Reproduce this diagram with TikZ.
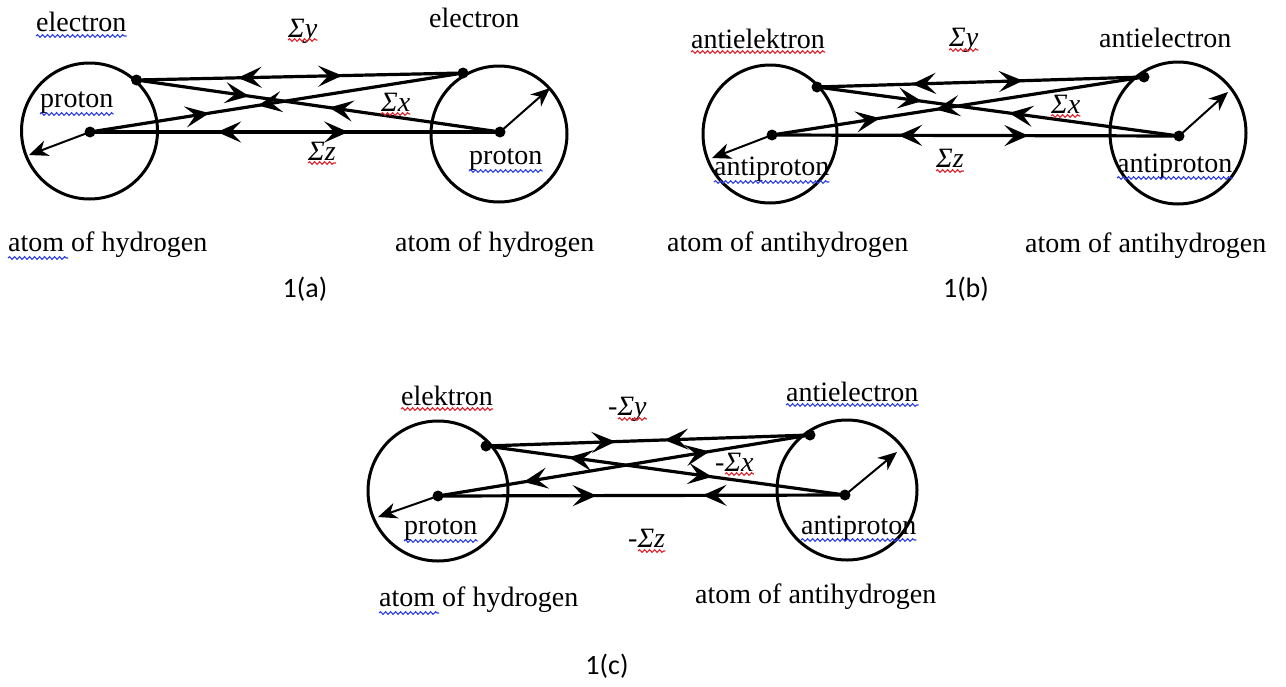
\documentclass[tikz,border=0pt]{standalone}
\usepackage{fontspec}
\setmainfont{Liberation Serif}
\newfontfamily\capfont{Carlito}
\usetikzlibrary{arrows.meta,decorations.markings,decorations.pathmorphing,shapes.geometric}
\definecolor{sqblue}{RGB}{40,60,235}
\definecolor{sqred}{RGB}{225,30,40}
\tikzset{
  /pgf/decoration/fw/.style={mark=at position #1 with {\arrow{Stealth[length=24pt,width=21pt,inset=10pt]}}},
  /pgf/decoration/bw/.style={mark=at position #1 with {\arrowreversed{Stealth[length=24pt,width=21pt,inset=10pt]}}},
  force/.style={line width=3.2pt, postaction={decorate}, decoration={markings,#1}},
  atomc/.style={draw, circle, line width=3pt, inner sep=0pt, minimum size=#1},
  atome/.style={draw, ellipse, line width=3pt, inner sep=0pt},
  dot/.style={circle, fill, inner sep=0pt, minimum size=11pt},
  outarr/.style={line width=2pt, -{Stealth[length=19pt,width=16pt,inset=6pt]}},
  lbl/.style={font=\fontsize{28pt}{32pt}\selectfont, inner sep=0pt, anchor=base west},
  caplbl/.style={font=\capfont\fontsize{28pt}{32pt}\selectfont, inner sep=0pt, anchor=base},
  sq/.style={decorate, decoration={snake, segment length=5pt, amplitude=1.3pt}, line width=1.1pt},
}
\begin{document}
\begin{tikzpicture}[x=1pt,y=-1pt]
\useasboundingbox (0,0) rectangle (1286,686);
% ---------------- 1(a)
\node[atomc=136] (a-L) at (89.5,131) {};
\node[atomc=136] (a-R) at (499,134) {};
\node[dot] (a-e1) at (136.5,80) {};
\node[dot] (a-p1) at (90,132) {};
\node[dot] (a-e2) at (463,73) {};
\node[dot] (a-p2) at (500,132) {};
\coordinate (a-o1) at (29,155);
\coordinate (a-o2) at (550,88);
\draw[force={bw=0.31,fw=0.63}] (a-e1.center) -- (a-e2.center);
\draw[force={bw=0.31,fw=0.63}] (a-p1.center) -- (a-p2.center);
\draw[force={fw=0.31,bw=0.53}] (a-e1.center) -- (a-p2.center);
\draw[force={fw=0.32,bw=0.45}] (a-p1.center) -- (a-e2.center);
\draw[outarr] (a-p1.center) -- (a-o1);
\draw[outarr] (a-p2.center) -- (a-o2);
\node[lbl] (a-t1) at (36,31) {electron};
\node[lbl] (a-sy) at (288,37) {\textit{Σy}};
\node[lbl] (a-t2) at (429,27) {electron};
\node[lbl] (a-t3) at (40,107) {proton};
\node[lbl] (a-sx) at (381,111) {\textit{Σx}};
\node[lbl] (a-sz) at (308,160) {\textit{Σz}};
\node[lbl] (a-t4) at (469,164) {proton};
\node[lbl] (a-t5) at (8,251) {atom of hydrogen};
\node[lbl] (a-t6) at (395,251) {atom of hydrogen};
\node[caplbl] (a-cap) at (305,297) {1(a)};
\draw[sq,sqblue] ([yshift=-5pt]a-t1.base west) -- ([yshift=-5pt]a-t1.base east);
\draw[sq,sqblue] ([yshift=-7pt]a-t3.base west) -- ([yshift=-7pt]a-t3.base east);
\draw[sq,sqblue] ([yshift=-7pt]a-t4.base west) -- ([yshift=-7pt]a-t4.base east);
\draw[sq,sqblue] ([yshift=-7pt]a-t5.base west) -- ++(60,0);
\draw[sq,sqred] ([yshift=-3pt]a-sy.base west) -- ([yshift=-3pt]a-sy.base east);
\draw[sq,sqred] ([yshift=-3pt]a-sx.base west) -- ([yshift=-3pt]a-sx.base east);
\draw[sq,sqred] ([yshift=-3pt]a-sz.base west) -- ([yshift=-3pt]a-sz.base east);
% ---------------- 1(b)
\node[atome, minimum width=134, minimum height=138] (b-L) at (770,134) {};
\node[atome, minimum width=136, minimum height=142] (b-R) at (1178,133) {};
\node[dot] (b-e1) at (817,87) {};
\node[dot] (b-p1) at (772,135) {};
\node[dot] (b-e2) at (1144,77) {};
\node[dot] (b-p2) at (1179,136) {};
\coordinate (b-o1) at (712,158);
\coordinate (b-o2) at (1228,92);
\draw[force={bw=0.29,fw=0.63}] (b-e1.center) -- (b-e2.center);
\draw[force={bw=0.31,fw=0.63}] (b-p1.center) -- (b-p2.center);
\draw[force={fw=0.29,bw=0.53}] (b-e1.center) -- (b-p2.center);
\draw[force={fw=0.29,bw=0.44}] (b-p1.center) -- (b-e2.center);
\draw[outarr] (b-p1.center) -- (b-o1);
\draw[outarr] (b-p2.center) -- (b-o2);
\node[lbl] (b-t1) at (691,48) {antielektron};
\node[lbl] (b-sy) at (949,46) {\textit{Σy}};
\node[lbl] (b-t2) at (1099,47) {antielectron};
\node[lbl] (b-sx) at (1051,113) {\textit{Σx}};
\node[lbl] (b-sz) at (936,167) {\textit{Σz}};
\node[lbl] (b-t3) at (714,175) {antiproton};
\node[lbl] (b-t4) at (1117,172) {antiproton};
\node[lbl] (b-t5) at (667,251) {atom of antihydrogen};
\node[lbl] (b-t6) at (1025,252) {atom of antihydrogen};
\node[caplbl] (b-cap) at (966,297) {1(b)};
\draw[sq,sqred] ([yshift=-4pt]b-t1.base west) -- ([yshift=-4pt]b-t1.base east);
\draw[sq,sqred] ([yshift=-4pt]b-sy.base west) -- ([yshift=-4pt]b-sy.base east);
\draw[sq,sqred] ([yshift=-3pt]b-sx.base west) -- ([yshift=-3pt]b-sx.base east);
\draw[sq,sqred] ([yshift=-4pt]b-sz.base west) -- ([yshift=-4pt]b-sz.base east);
\draw[sq,sqblue] ([yshift=-7pt]b-t3.base west) -- ([yshift=-7pt]b-t3.base east);
\draw[sq,sqblue] ([yshift=-6pt]b-t4.base west) -- ([yshift=-6pt]b-t4.base east);
% ---------------- 1(c)
\node[atomc=140] (c-L) at (438,491) {};
\node[atomc=140] (c-R) at (847,490) {};
\node[dot] (c-e1) at (486,446) {};
\node[dot] (c-p1) at (438,496) {};
\node[dot] (c-e2) at (810,435) {};
\node[dot] (c-p2) at (845,495) {};
\coordinate (c-o1) at (378,517);
\coordinate (c-o2) at (897,452);
\draw[force={fw=0.40,bw=0.55}] (c-e1.center) -- (c-e2.center);
\draw[force={fw=0.39,bw=0.65}] (c-p1.center) -- (c-p2.center);
\draw[force={bw=0.23,fw=0.63}] (c-e1.center) -- (c-p2.center);
\draw[force={bw=0.23,fw=0.73}] (c-p1.center) -- (c-e2.center);
\draw[outarr] (c-p1.center) -- (c-o1);
\draw[outarr] (c-p2.center) -- (c-o2);
\node[lbl] (c-t1) at (401,405) {elektron};
\node[lbl] (c-sy) at (608,415) {-\textit{Σy}};
\node[lbl] (c-t2) at (786,401) {antielectron};
\node[lbl] (c-sx) at (715,471) {-\textit{Σx}};
\node[lbl] (c-sz) at (628,547) {-\textit{Σz}};
\node[lbl] (c-t3) at (404,534) {proton};
\node[lbl] (c-t4) at (801,534) {antiproton};
\node[lbl] (c-t5) at (379,606) {atom of hydrogen};
\node[lbl] (c-t6) at (695,603) {atom of antihydrogen};
\node[caplbl] (c-cap) at (607,674) {1(c)};
\draw[sq,sqred] ([yshift=-4pt]c-t1.base west) -- ([yshift=-4pt]c-t1.base east);
\draw[sq,sqred] ([xshift=10pt,yshift=-4pt]c-sy.base west) -- ([yshift=-4pt]c-sy.base east);
\draw[sq,sqred] ([xshift=10pt,yshift=-3pt]c-sx.base west) -- ([yshift=-3pt]c-sx.base east);
\draw[sq,sqred] ([xshift=10pt,yshift=-4pt]c-sz.base west) -- ([yshift=-4pt]c-sz.base east);
\draw[sq,sqblue] ([yshift=-4pt]c-t2.base west) -- ([yshift=-4pt]c-t2.base east);
\draw[sq,sqblue] ([yshift=-7pt]c-t3.base west) -- ([yshift=-7pt]c-t3.base east);
\draw[sq,sqblue] ([yshift=-6pt]c-t4.base west) -- ([yshift=-6pt]c-t4.base east);
\draw[sq,sqblue] ([yshift=-7pt]c-t5.base west) -- ++(60,0);
\end{tikzpicture}
\end{document}
